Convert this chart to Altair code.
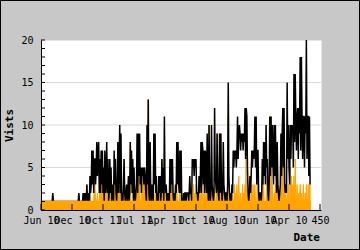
import altair as alt
import pandas as pd

# Daily visits (black line), one value per day index
visits = [
    1,1,1,1,1,1,1,1,1,1,
    1,1,1,1,1,1,1,1,1,2,
    1,1,1,1,1,1,1,1,1,1,
    1,1,1,1,1,1,1,1,1,1,
    1,1,1,1,1,1,1,1,1,1,
    1,1,1,1,1,1,1,1,1,1,
    1,2,1,1,1,1,1,1,2,1,
    2,1,2,1,3,1,2,1,1,4,
    2,3,7,3,7,2,6,6,3,5,
    8,4,7,8,2,6,2,7,3,7,
    2,5,1,7,2,3,8,2,6,1,
    2,6,2,5,1,3,2,1,7,3,
    6,2,1,3,8,2,5,10,2,9,
    1,2,1,3,6,2,1,2,3,1,
    2,4,1,2,8,3,7,2,6,1,
    5,2,1,2,3,9,2,9,4,9,
    3,5,2,5,4,5,3,5,4,2,
    1,10,3,13,2,1,8,2,1,3,
    2,1,9,3,9,2,4,1,2,1,
    4,2,4,1,2,6,2,5,1,11,
    3,2,3,1,2,1,2,1,6,2,
    6,3,6,2,1,2,1,3,2,8,
    3,8,3,2,7,2,7,1,1,1,
    2,1,2,2,1,2,2,2,1,2,
    4,2,2,1,6,5,6,4,6,5,
    6,2,2,1,2,4,2,4,8,2,
    8,7,3,7,2,7,6,2,9,3,
    1,10,2,1,2,10,3,2,1,2,
    12,4,3,2,9,3,2,1,9,2,
    9,3,1,2,8,3,2,1,2,2,
    1,3,15,4,2,1,2,1,3,2,
    7,5,7,6,7,5,7,11,6,9,
    10,9,7,9,8,9,7,9,8,12,
    6,12,11,5,2,1,2,4,2,4,
    7,5,7,6,7,11,5,11,3,7,
    7,2,1,2,2,1,2,6,3,8,
    4,8,3,10,5,6,2,1,3,11,
    4,11,5,10,6,3,10,4,10,5,
    2,8,3,2,1,2,3,9,4,9,
    12,5,12,3,2,3,2,15,6,10,
    5,3,10,6,10,9,10,5,16,8,
    16,11,7,11,12,6,12,9,18,7,
    18,11,6,11,11,5,11,9,20,6,
    11,11,4,11,3,
]

# Second series (orange area)
uniques = [
    1,1,1,1,1,1,1,1,1,1,
    1,1,1,1,1,1,1,1,1,2,
    1,1,1,1,1,1,1,1,1,1,
    1,1,1,1,1,1,1,1,1,1,
    1,1,1,1,1,1,1,1,1,1,
    1,1,1,1,1,1,1,1,1,1,
    1,2,1,1,1,1,1,1,1,1,
    1,1,1,1,3,1,1,1,1,2,
    1,1,1,1,1,1,3,3,1,1,
    1,2,1,1,1,4,1,4,1,5,
    1,5,1,4,1,1,2,1,1,1,
    2,1,1,2,1,2,1,1,3,1,
    3,1,1,1,8,1,1,5,1,5,
    1,1,1,1,6,1,1,1,1,1,
    1,2,1,1,8,1,1,1,1,1,
    3,1,1,1,1,4,1,5,1,4,
    1,1,1,3,1,4,1,5,1,2,
    1,4,1,13,1,1,3,1,1,3,
    1,1,1,1,2,1,1,1,1,1,
    2,1,3,1,1,6,1,5,1,5,
    1,2,1,1,1,1,1,1,5,1,
    5,1,4,1,1,1,1,2,1,3,
    1,1,1,1,3,1,1,1,1,1,
    2,1,1,2,1,1,1,1,1,1,
    2,1,1,1,1,1,3,1,2,1,
    3,1,1,1,1,4,1,1,3,1,
    2,1,1,3,1,1,2,1,2,1,
    1,10,1,1,1,6,1,1,1,1,
    3,1,1,1,9,1,1,1,3,1,
    9,1,1,1,3,1,1,1,1,2,
    1,1,11,1,2,1,1,1,2,1,
    1,1,3,1,2,1,3,1,1,4,
    1,1,2,1,1,3,1,2,1,3,
    1,11,3,1,1,1,2,1,1,3,
    1,1,3,1,1,3,1,1,1,4,
    1,2,1,1,1,1,1,6,1,3,
    1,1,1,1,4,1,2,1,1,3,
    1,11,1,3,1,1,2,1,3,1,
    1,7,1,2,1,1,1,7,1,1,
    12,1,3,1,2,1,1,2,1,3,
    1,1,5,1,4,1,3,1,4,1,
    6,1,1,3,1,1,2,1,3,1,
    2,1,1,3,1,1,2,1,3,1,
    1,3,1,3,3,
]

x_tick_values = [0, 50, 100, 150, 200, 250, 300, 350, 400, 450]
x_tick_labels = ["Jun 10", "Dec 10", "Oct 11", "Jul 11", "Apr 11",
                 "Oct 10", "Aug 10", "Jun 10", "Apr 10", "450"]
y_label_values = [0, 5, 10, 15, 20]
y_minor_ticks = list(range(0, 21))
grid_values = [5, 10, 15]

df = pd.DataFrame({"day": list(range(len(visits))), "visits": visits, "uniques": uniques})

FONT = "DejaVu Sans Mono"
xscale = alt.Scale(domain=[0, 451.6], nice=False, zero=False)
yscale = alt.Scale(domain=[0, 20], nice=False)

label_expr = "[" + ",".join("'" + s + "'" for s in x_tick_labels) + "][round(datum.value/50)]"

xaxis = alt.Axis(
    values=x_tick_values, labelExpr=label_expr, title="Date",
    grid=False, tickSize=0, labelPadding=5, labelFlush=False, labelOverlap=False,
    labelFont=FONT, labelFontSize=10, labelColor="black",
    domainColor="black", domainWidth=1,
    titleFont=FONT, titleFontSize=11, titleFontWeight="bold", titleColor="black",
    titleX=278.5, titleY=30, titleAlign="right", titleBaseline="alphabetic",
    zindex=1,
)
yaxis = alt.Axis(
    values=y_label_values, title="Vists",
    grid=False, tickSize=0, labelPadding=8, labelFlush=False, labelOverlap=False,
    labelFont=FONT, labelFontSize=10, labelColor="black",
    domainColor="black", domainWidth=1,
    titleFont=FONT, titleFontSize=11, titleFontWeight="bold", titleColor="black",
    titleX=-32, titleY=85, titleAngle=270, titleAlign="center", titleBaseline="middle",
    zindex=1,
)

grid = alt.Chart(pd.DataFrame({"g": grid_values})).mark_rule(
    color="#d9d9d9", strokeWidth=1
).encode(
    y=alt.Y("g:Q", scale=yscale, axis=yaxis),
    x=alt.value(0), x2=alt.value(280),
)

area = alt.Chart(df).mark_area(
    color="#ffa500", fillOpacity=1, stroke="#ffa500", strokeWidth=1
).encode(
    x=alt.X("day:Q", scale=xscale, axis=xaxis),
    y=alt.Y("uniques:Q", scale=yscale, axis=yaxis),
)

line = alt.Chart(df).mark_line(color="black", strokeWidth=1.5).encode(
    x=alt.X("day:Q", scale=xscale, axis=xaxis),
    y=alt.Y("visits:Q", scale=yscale, axis=yaxis),
)

# the low orange band (up to the first unit) sits over the line's base
band = alt.Chart(df).transform_calculate(
    low="min(datum.uniques, 1)"
).mark_area(color="#ffa500", fillOpacity=1, stroke="#ffa500", strokeWidth=1.5).encode(
    x=alt.X("day:Q", scale=xscale, axis=xaxis),
    y=alt.Y("low:Q", scale=yscale, axis=yaxis),
)

yticks = alt.Chart(pd.DataFrame({"t": y_minor_ticks})).mark_rule(color="black").encode(
    y=alt.Y("t:Q", scale=yscale, axis=yaxis),
    x=alt.value(0), x2=alt.value(4),
)

xticks = alt.Chart(pd.DataFrame({"t": x_tick_values})).mark_rule(color="black").encode(
    x=alt.X("t:Q", scale=xscale, axis=xaxis),
    y=alt.value(164), y2=alt.value(170),
)

border = alt.Chart(pd.DataFrame({"b": [0]})).mark_rect(
    fillOpacity=0, stroke="black", strokeWidth=1
).encode(
    x=alt.value(-40.5), x2=alt.value(318.5), y=alt.value(-39.5), y2=alt.value(209.5),
)

chart = alt.layer(grid, area, line, band, yticks, xticks, border).properties(
    width=280, height=170,
    autosize=alt.AutoSizeParams(type="none"),
    padding={"left": 41, "top": 40, "right": 39, "bottom": 40},
).configure(background="#c8c8c8").configure_view(fill="white", strokeOpacity=0)

chart.save("out.html", embed_options={"renderer": "svg", "actions": False})
